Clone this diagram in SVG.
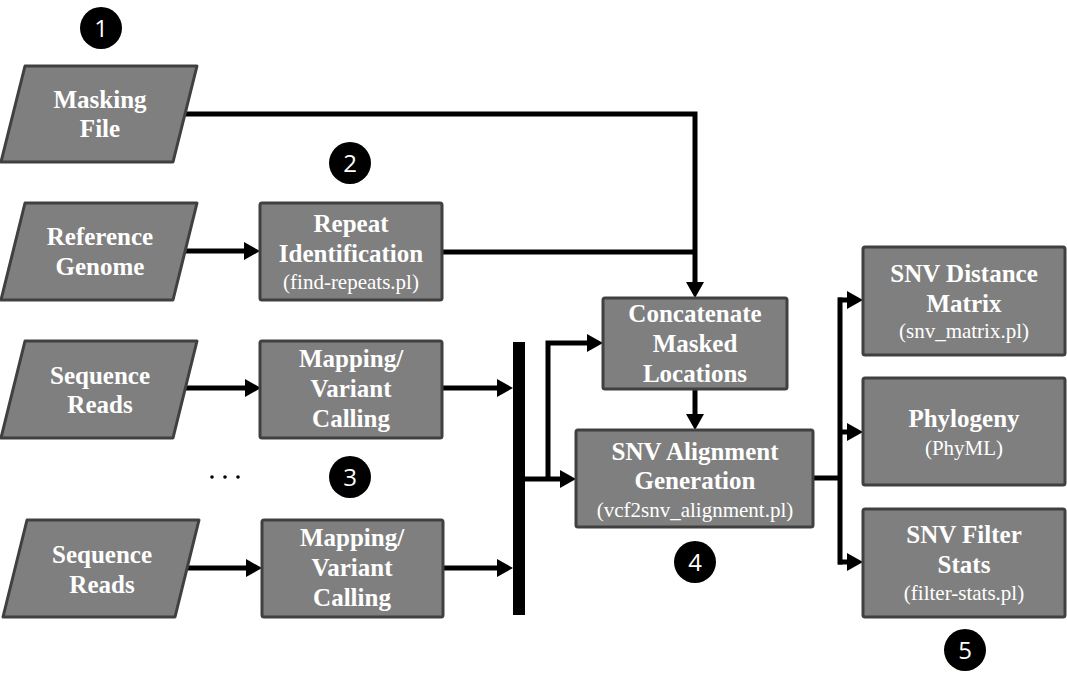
<svg xmlns="http://www.w3.org/2000/svg" width="1067" height="686" viewBox="0 0 1067 686">
<style>
.box{fill:#7f7f7f;stroke:#404040;stroke-width:3;stroke-linejoin:round}
.b{font-family:"Liberation Serif","Times New Roman",serif;font-weight:bold;font-size:25px;fill:#fff;text-anchor:middle}
.r{font-family:"Liberation Serif","Times New Roman",serif;font-size:21px;fill:#fff;text-anchor:middle}
.num circle{fill:#000}
.num text{font-family:"Open Sans","Noto Sans",sans-serif;font-size:24px;fill:#fff;text-anchor:middle}
.c{fill:none;stroke:#000;stroke-width:5}
.ca{fill:none;stroke:#000;stroke-width:5;marker-end:url(#ah)}
</style>
<defs>
<marker id="ah" markerUnits="userSpaceOnUse" viewBox="0 -10 20 20" refX="0" refY="0" markerWidth="20" markerHeight="20" orient="auto" overflow="visible">
<path d="M0,-9 L16,0 L0,9 z" fill="#000"/>
</marker>
</defs>
<rect width="1067" height="686" fill="#fff"/>
<g id="connectors">
<path class="ca" d="M185,114 H695 V282"/>
<path class="c" d="M442,252 H695"/>
<path class="ca" d="M185,251 H244"/>
<path class="ca" d="M185,388 H245"/>
<path class="ca" d="M442,388 H497"/>
<path class="ca" d="M187,568 H246"/>
<path class="ca" d="M443,568 H497"/>
<rect x="513" y="342" width="12" height="273" fill="#000"/>
<path class="ca" d="M524,479 H560"/>
<path class="ca" d="M548,479 V343 H587"/>
<path class="ca" d="M695,389 V414"/>
<path class="c" d="M813,478 H840"/>
<path class="c" d="M840,297.5 V564.5"/>
<path class="ca" d="M838,300 H847"/>
<path class="ca" d="M838,432 H847"/>
<path class="ca" d="M838,562 H847"/>
</g>
<g id="masking-file">
<polygon class="box" points="25,66 197,66 173,162 1,162"/>
<text class="b" x="100" y="108">Masking</text>
<text class="b" x="100" y="137">File</text>
</g>
<g id="reference-genome">
<polygon class="box" points="25,203 197,203 173,300 1,300"/>
<text class="b" x="100" y="245">Reference</text>
<text class="b" x="100" y="275">Genome</text>
</g>
<g id="repeat-identification">
<rect class="box" x="260" y="203" width="182" height="97" rx="2"/>
<text class="b" x="351" y="232">Repeat</text>
<text class="b" x="351" y="262">Identification</text>
<text class="r" x="351" y="289">(find-repeats.pl)</text>
</g>
<g id="sequence-reads-1">
<polygon class="box" points="25,341 197,341 173,438 1,438"/>
<text class="b" x="100" y="384">Sequence</text>
<text class="b" x="100" y="413">Reads</text>
</g>
<g id="mapping-1">
<rect class="box" x="260" y="341" width="182" height="97" rx="2"/>
<text class="b" x="351" y="367">Mapping/</text>
<text class="b" x="351" y="397">Variant</text>
<text class="b" x="351" y="427">Calling</text>
</g>
<g id="ellipsis">
<circle cx="212" cy="477" r="1.8" fill="#000"/>
<circle cx="225" cy="477" r="1.8" fill="#000"/>
<circle cx="238" cy="477" r="1.8" fill="#000"/>
</g>
<g id="sequence-reads-2">
<polygon class="box" points="27,520 199,520 175,617 3,617"/>
<text class="b" x="102" y="563">Sequence</text>
<text class="b" x="102" y="593">Reads</text>
</g>
<g id="mapping-2">
<rect class="box" x="262" y="520" width="181" height="97" rx="2"/>
<text class="b" x="352" y="546">Mapping/</text>
<text class="b" x="352" y="576">Variant</text>
<text class="b" x="352" y="606">Calling</text>
</g>
<g id="concatenate">
<rect class="box" x="603" y="298" width="184" height="91" rx="2"/>
<text class="b" x="695" y="322">Concatenate</text>
<text class="b" x="695" y="352">Masked</text>
<text class="b" x="695" y="382">Locations</text>
</g>
<g id="snv-alignment">
<rect class="box" x="576" y="430" width="237" height="97" rx="2"/>
<text class="b" x="695" y="460">SNV Alignment</text>
<text class="b" x="695" y="489">Generation</text>
<text class="r" x="695" y="517">(vcf2snv_alignment.pl)</text>
</g>
<g id="snv-distance-matrix">
<rect class="box" x="863" y="247" width="202" height="108" rx="2"/>
<text class="b" x="964" y="282">SNV Distance</text>
<text class="b" x="964" y="312">Matrix</text>
<text class="r" x="964" y="338">(snv_matrix.pl)</text>
</g>
<g id="phylogeny">
<rect class="box" x="863" y="378" width="202" height="107" rx="2"/>
<text class="b" x="964" y="427">Phylogeny</text>
<text class="r" x="964" y="455">(PhyML)</text>
</g>
<g id="snv-filter-stats">
<rect class="box" x="863" y="509" width="202" height="108" rx="2"/>
<text class="b" x="964" y="543">SNV Filter</text>
<text class="b" x="964" y="573">Stats</text>
<text class="r" x="964" y="600">(filter-stats.pl)</text>
</g>
<g id="step-1" class="num"><circle cx="101" cy="28" r="21"/><text x="101" y="37">1</text></g>
<g id="step-2" class="num"><circle cx="350" cy="163" r="21"/><text x="350" y="172">2</text></g>
<g id="step-3" class="num"><circle cx="350" cy="477" r="21"/><text x="350" y="486">3</text></g>
<g id="step-4" class="num"><circle cx="695" cy="562" r="21"/><text x="695" y="571">4</text></g>
<g id="step-5" class="num"><circle cx="965" cy="650" r="21"/><text x="965" y="659">5</text></g>
</svg>
